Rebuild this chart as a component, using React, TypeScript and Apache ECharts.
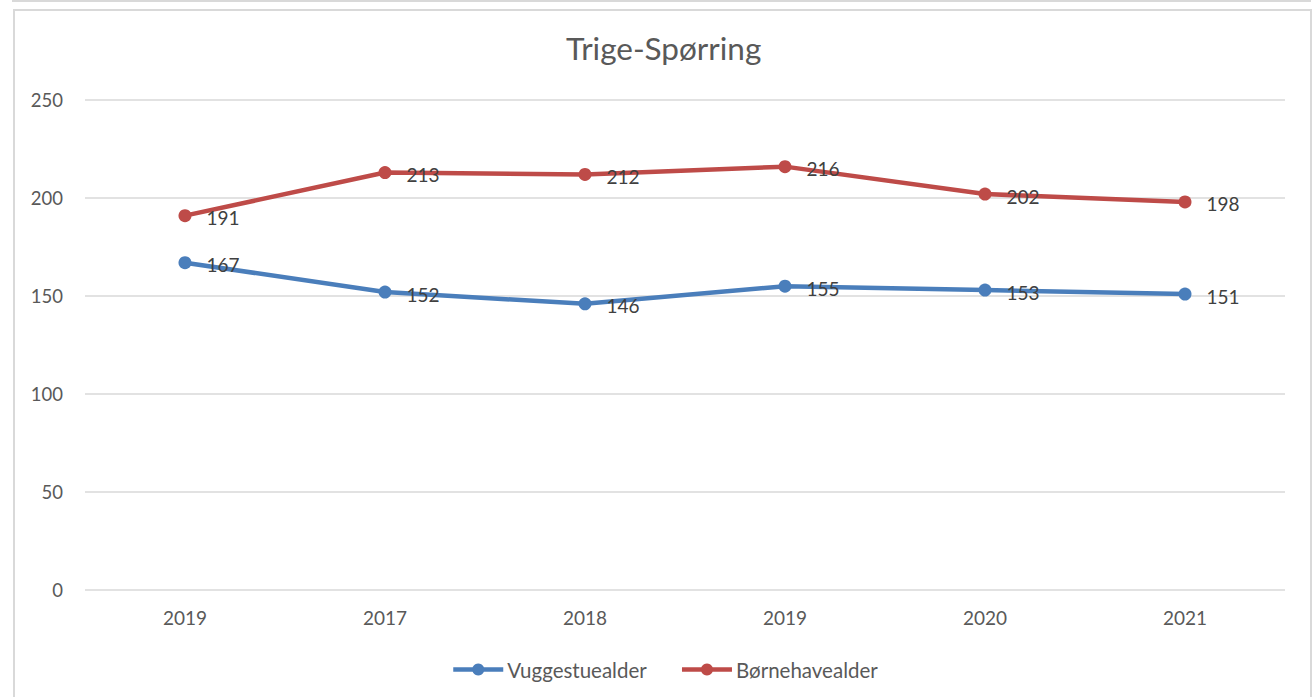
import React, { useEffect, useRef } from "react";
import * as echarts from "echarts";

const categories = ["2019", "2017", "2018", "2019", "2020", "2021"];
const vuggestue = [167, 152, 146, 155, 153, 151];
const bornehave = [191, 213, 212, 216, 202, 198];
const yTicks = { min: 0, max: 250, interval: 50 };

const FONT = "Lato";
const TXT = "#595959";

export default function App() {
  const ref = useRef<HTMLDivElement>(null);
  useEffect(() => {
    if (!ref.current) return;
    const chart = echarts.init(ref.current, undefined, { renderer: "svg" });
    const labelCfg = {
      show: true,
      position: "right",
      distance: 15,
      offset: [0, 2],
      color: "#404040",
      fontFamily: FONT,
      fontSize: 19,
    };
    chart.setOption({
      animation: false,
      backgroundColor: "#ffffff",
      textStyle: { fontFamily: FONT },
      title: {
        text: "Trige-Spørring",
        left: 561,
        top: 27,
        textStyle: { fontFamily: FONT, fontSize: 31.5, fontWeight: "normal", color: TXT },
      },
      graphic: [
        { type: "line", shape: { x1: 12, y1: 1, x2: 1311, y2: 1 }, style: { stroke: "#d9d9d9", lineWidth: 2 } },
        { type: "rect", shape: { x: 14, y: 10, width: 1297, height: 700 }, style: { fill: "none", stroke: "#d9d9d9", lineWidth: 2 } },
      ],
      grid: { left: 85, right: 29, top: 100, bottom: 107, containLabel: false },
      legend: {
        top: 654,
        left: 446,
        itemWidth: 50,
        itemHeight: 15,
        itemGap: 33,
        lineStyle: { width: 4.5 },
        textStyle: { fontFamily: FONT, fontSize: 20.5, color: TXT, padding: [0, 0, 0, -1] },
        data: ["Vuggestuealder", "Børnehavealder"],
      },
      xAxis: {
        type: "category",
        data: categories,
        boundaryGap: true,
        axisLine: { show: false },
        axisTick: { show: false },
        axisLabel: { color: TXT, fontFamily: FONT, fontSize: 19, margin: 18 },
      },
      yAxis: {
        type: "value",
        min: yTicks.min,
        max: yTicks.max,
        interval: yTicks.interval,
        axisLine: { show: false },
        axisTick: { show: false },
        axisLabel: { color: TXT, fontFamily: FONT, fontSize: 18.5, margin: 22 },
        splitLine: { lineStyle: { color: "#d9d9d9", width: 1.5 } },
      },
      series: [
        {
          name: "Vuggestuealder",
          type: "line",
          data: vuggestue,
          symbol: "circle",
          symbolSize: 13,
          itemStyle: { color: "#4a7ebb" },
          lineStyle: { color: "#4a7ebb", width: 4.5 },
          label: labelCfg,
        },
        {
          name: "Børnehavealder",
          type: "line",
          data: bornehave,
          symbol: "circle",
          symbolSize: 13,
          itemStyle: { color: "#be4b48" },
          lineStyle: { color: "#be4b48", width: 4.5 },
          label: labelCfg,
        },
      ],
    });
    return () => chart.dispose();
  }, []);
  return (
    <div
      ref={ref}
      style={{ position: "absolute", left: 0, top: 0, width: 1314, height: 697 }}
    />
  );
}
